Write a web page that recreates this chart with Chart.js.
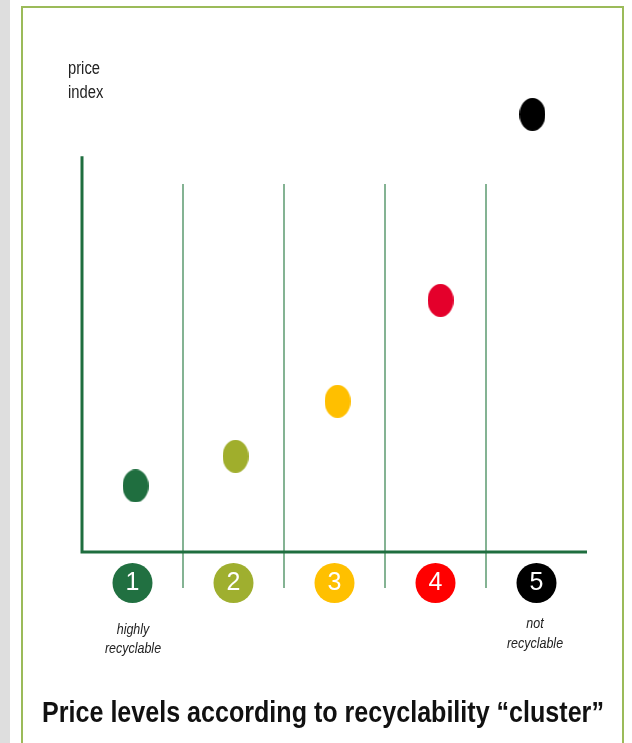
<!DOCTYPE html>
<html lang="en">
<head>
  <meta charset="UTF-8">
  <meta name="viewport" content="width=device-width, initial-scale=1.0">
  <title>Price levels according to recyclability cluster</title>
  <script src="https://cdn.jsdelivr.net/npm/chart.js"></script>
  <style>
    html, body { margin: 0; padding: 0; background: #fff; }
    body { width: 632px; height: 743px; position: relative; overflow: hidden;
           font-family: "Liberation Sans Narrow", "Liberation Sans", Arial, sans-serif; }
    #strip { position: absolute; left: 0; top: 0; width: 10px; height: 743px; background: #dedede; }
    #frame { position: absolute; left: 21px; top: 6px; width: 599px; height: 800px; border: 2px solid #9bbb59; }
    #myChart { position: absolute; left: 0; top: 0; }
    .note { position: absolute; color: #222; text-align: center; }
    /* no narrow face installed, so squeeze the regular one */
    #yTitle { left: 68px; top: 56px; font-size: 18px; line-height: 24px; text-align: left;
              transform: scaleX(0.82); transform-origin: left center; }
    #capLeft { left: 83px; width: 100px; top: 620px; font-size: 14.5px; line-height: 19px; font-style: italic;
               transform: scaleX(0.86); }
    #capRight { left: 485px; width: 100px; top: 613px; font-size: 14.5px; line-height: 20px; font-style: italic;
                transform: scaleX(0.86); }
    #title { left: -27px; width: 700px; top: 696px; font-size: 29px; line-height: 32px; font-weight: bold; color: #111;
             transform: scaleX(0.865); white-space: nowrap; }
  </style>
</head>
<body>
<div id="strip"></div>
<div id="frame"></div>
<canvas id="myChart" width="632" height="743"></canvas>
<div class="note" id="yTitle">price<br>index</div>
<div class="note" id="capLeft">highly<br>recyclable</div>
<div class="note" id="capRight">not<br>recyclable</div>
<div class="note" id="title">Price levels according to recyclability “cluster”</div>

<script>
  // recyclability clusters (1 = highly recyclable ... 5 = not recyclable)
  const clusters = [1, 2, 3, 4, 5];
  const clusterLabels = ['1', '2', '3', '4', '5'];
  const clusterColors = ['#217041', '#9faf2f', '#ffc000', '#ff0000', '#000000'];

  // price index per cluster
  const pointX = [1.03, 2.02, 3.03, 4.05, 4.96];
  const priceIndex = [16.7, 24.2, 38.1, 63.6, 110.6];
  const pointColors = ['#1f6e3f', '#a0ae2c', '#ffbf00', '#e4002b', '#000000'];

  const separators = [1.5, 2.5, 3.5, 4.5];

  // oval markers
  function ovalMarker(color) {
    const c = document.createElement('canvas');
    c.width = 26;
    c.height = 33;
    const g = c.getContext('2d');
    g.fillStyle = color;
    g.beginPath();
    g.ellipse(13, 16.5, 13, 16.5, 0, 0, Math.PI * 2);
    g.fill();
    return c;
  }

  const axisDecor = {
    id: 'axisDecor',
    beforeDraw(chart) {
      const { ctx, scales: { x } } = chart;
      ctx.save();
      clusters.forEach((c, i) => {
        ctx.beginPath();
        ctx.fillStyle = clusterColors[i];
        ctx.arc(x.getPixelForValue(c), x.top + 31, 20, 0, Math.PI * 2);
        ctx.fill();
      });
      ctx.restore();
    },
    beforeDatasetsDraw(chart) {
      const { ctx, chartArea, scales: { x, y } } = chart;
      ctx.save();
      ctx.strokeStyle = '#5b9a6f';
      ctx.lineWidth = 1.5;
      separators.forEach(s => {
        const px = x.getPixelForValue(s);
        ctx.beginPath();
        ctx.moveTo(px, y.getPixelForValue(93));
        ctx.lineTo(px, chartArea.bottom + 36);
        ctx.stroke();
      });
      ctx.strokeStyle = '#1f6e3f';
      ctx.lineWidth = 3;
      ctx.beginPath();
      ctx.moveTo(chartArea.left, y.getPixelForValue(100));
      ctx.lineTo(chartArea.left, chartArea.bottom);
      ctx.lineTo(chartArea.right, chartArea.bottom);
      ctx.stroke();
      ctx.restore();
    }
  };

  const ctx = document.getElementById('myChart').getContext('2d');

  const chartData = {
    datasets: [{
      label: 'price index',
      data: pointX.map((x, i) => ({ x: x, y: priceIndex[i] })),
      pointStyle: pointColors.map(ovalMarker),
      backgroundColor: pointColors,
      borderColor: pointColors,
      pointRadius: 14,
      pointHoverRadius: 14
    }]
  };

  const config = {
    type: 'scatter',
    data: chartData,
    plugins: [axisDecor],
    options: {
      responsive: false,
      animation: false,
      layout: { padding: { left: 82, right: 45, top: 97, bottom: 131 } },
      plugins: { legend: { display: false }, tooltip: { enabled: false } },
      scales: {
        x: {
          type: 'linear',
          min: 0.5,
          max: 5.5,
          afterBuildTicks: scale => { scale.ticks = clusters.map(v => ({ value: v })); },
          afterFit: scale => { scale.height = 60; },
          grid: { display: false, drawTicks: false },
          border: { display: false },
          ticks: {
            autoSkip: false,
            maxRotation: 0,
            padding: 16,
            color: '#ffffff',
            font: { family: '"Liberation Sans Narrow", "Liberation Sans", Arial, sans-serif', size: 25 },
            callback: (v) => clusterLabels[clusters.indexOf(v)]
          }
        },
        y: {
          display: false,
          min: 0,
          max: 115
        }
      }
    }
  };

  const myChart = new Chart(ctx, config);
</script>
</body>
</html>
